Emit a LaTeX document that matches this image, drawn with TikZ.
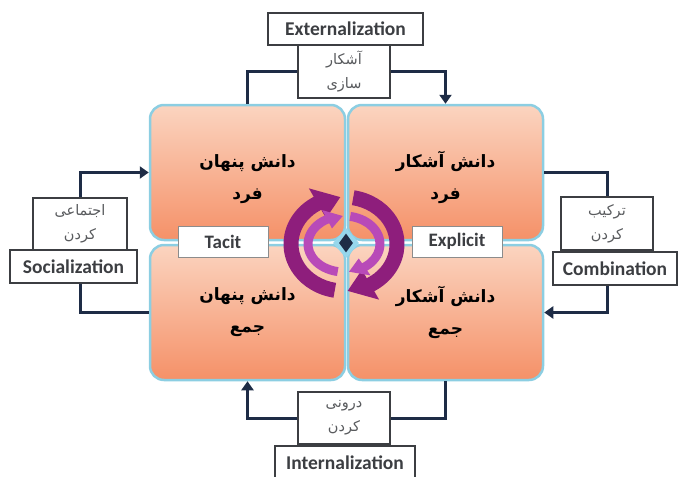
\documentclass[tikz,border=0pt]{standalone}
\usepackage{fontspec}
\setmainfont{Carlito}
\newfontfamily\fa[Script=Arabic]{DejaVu Sans}
\TeXXeTstate=1
\usetikzlibrary{arrows.meta,shapes.geometric}
\definecolor{navy}{RGB}{30,44,70}
\definecolor{qblue}{RGB}{140,206,226}
\definecolor{peach}{RGB}{251,212,192}
\definecolor{coral}{RGB}{245,145,104}
\definecolor{plum}{RGB}{142,30,124}
\definecolor{orchid}{RGB}{184,74,184}
\definecolor{ink}{RGB}{60,62,66}
\definecolor{hubglow}{RGB}{150,215,236}
\newcommand{\fatxt}[1]{{\fa\beginR #1\endR}}
\newcommand{\swirl}[7]{%
  \pgfmathsetmacro\ra{#1+#3}\pgfmathsetmacro\rb{#2+#3}%
  \pgfmathsetmacro\rc{#1-#3}\pgfmathsetmacro\rd{#2-#3}%
  \pgfmathsetmacro\re{#1+2.3*#3}\pgfmathsetmacro\rf{#2+2.3*#3}%
  \pgfmathsetmacro\rg{#1-2.3*#3}\pgfmathsetmacro\rh{#2-2.3*#3}%
  \fill[#7] ({#4}:{\ra} and {\rb}) arc[start angle=#4,end angle=#5,x radius=\ra,y radius=\rb]
    -- ({#5}:{\re} and {\rf}) -- ({#6}:{#1} and {#2}) -- ({#5}:{\rg} and {\rh})
    -- ({#5}:{\rc} and {\rd}) arc[start angle=#5,end angle=#4,x radius=\rc,y radius=\rd] -- cycle;}

\begin{document}
\begin{tikzpicture}[x=1pt,y=-1pt,
  cell/.style={draw=qblue,line width=2.5pt,rounded corners=14pt,top color=peach,bottom color=coral,
    minimum width=195pt,minimum height=135pt,align=center,font=\bfseries\fontsize{17}{32}\selectfont},
  tag/.style={draw=ink,line width=1.2pt,fill=white,text=ink,inner sep=0pt,font=\bfseries\fontsize{19.5}{21}\selectfont},
  fabox/.style={draw=ink,line width=1.2pt,fill=white,text=ink!85,inner sep=0pt,align=center,
    minimum width=92pt,minimum height=53pt,font=\fontsize{14.5}{24}\selectfont},
  side/.style={draw=black!45,line width=1pt,fill=white,text=ink,inner sep=0pt,
    minimum width=90pt,minimum height=31pt,font=\bfseries\fontsize{19}{21}\selectfont},
  flow/.style={navy,line width=3pt},
  >={Triangle[length=9pt,width=12pt]}]
\useasboundingbox (0,0) rectangle (681,477);
\node[cell] (tl) at (247.5,172.5) {\rule{0pt}{26pt}\fatxt{دانش پنهان}\\\fatxt{فرد}};
\node[cell] (tr) at (445.5,172.5) {\rule{0pt}{26pt}\fatxt{دانش آشکار}\\\fatxt{فرد}};
\node[cell] (bl) at (247.5,312.5) {\fatxt{دانش پنهان}\\\fatxt{جمع}};
\node[cell] (br) at (445.5,312.5) {\fatxt{دانش آشکار}\\\fatxt{جمع}};
\node[side] (tacit) at (223,241.5) {Tacit};
\node[side] (explicit) at (457,241.5) {Explicit};
\begin{scope}[shift={(344,244)}]
\swirl{53}{47}{7.5}{100}{240}{266}{plum}
\swirl{53}{47}{7.5}{-80}{60}{86}{plum}
\swirl{36}{28}{4.5}{100}{242}{268}{orchid}
\swirl{36}{28}{4.5}{-80}{55}{82}{orchid}
\end{scope}
\node[diamond,fill=hubglow,minimum width=26pt,minimum height=30pt,inner sep=0pt] (glow) at (346,243) {};
\node[diamond,fill=navy,minimum width=14pt,minimum height=19pt,inner sep=0pt] (hub) at (346,243) {};
\node[tag,minimum width=155pt,minimum height=32pt] (ext) at (345.5,29) {Externalization};
\node[fabox] (extfa) at (344,71.5) {\fatxt{آشکار}\\\fatxt{سازی}};
\node[fabox,minimum width=94pt,minimum height=52pt] (socfa) at (80,224) {\fatxt{اجتماعی}\\\fatxt{کردن}};
\node[tag,minimum width=127pt,minimum height=33pt] (soc) at (73.5,266.5) {Socialization};
\node[fabox] (comfa) at (607,223.5) {\fatxt{ترکیب}\\\fatxt{کردن}};
\node[tag,minimum width=124pt,minimum height=33pt] (com) at (615,268.5) {Combination};
\node[fabox,minimum height=52pt] (intfa) at (344,418) {\fatxt{درونی}\\\fatxt{کردن}};
\node[tag,minimum width=140pt,minimum height=34pt] (int) at (345,463) {Internalization};
\draw[flow] (tl.north) |- (extfa.west);
\draw[flow,->] (extfa.east) -| (tr.north);
\draw[flow,->] (socfa.north) |- (tl.west);
\draw[flow] (bl.west) -| (socfa.north |- soc.south);
\draw[flow] (tr.east) -| (comfa.north);
\draw[flow,->] (comfa.north |- com.south) |- (br.east);
\draw[flow] (br.south) |- (intfa.east);
\draw[flow,->] (intfa.west) -| (bl.south);
\end{tikzpicture}
\end{document}
